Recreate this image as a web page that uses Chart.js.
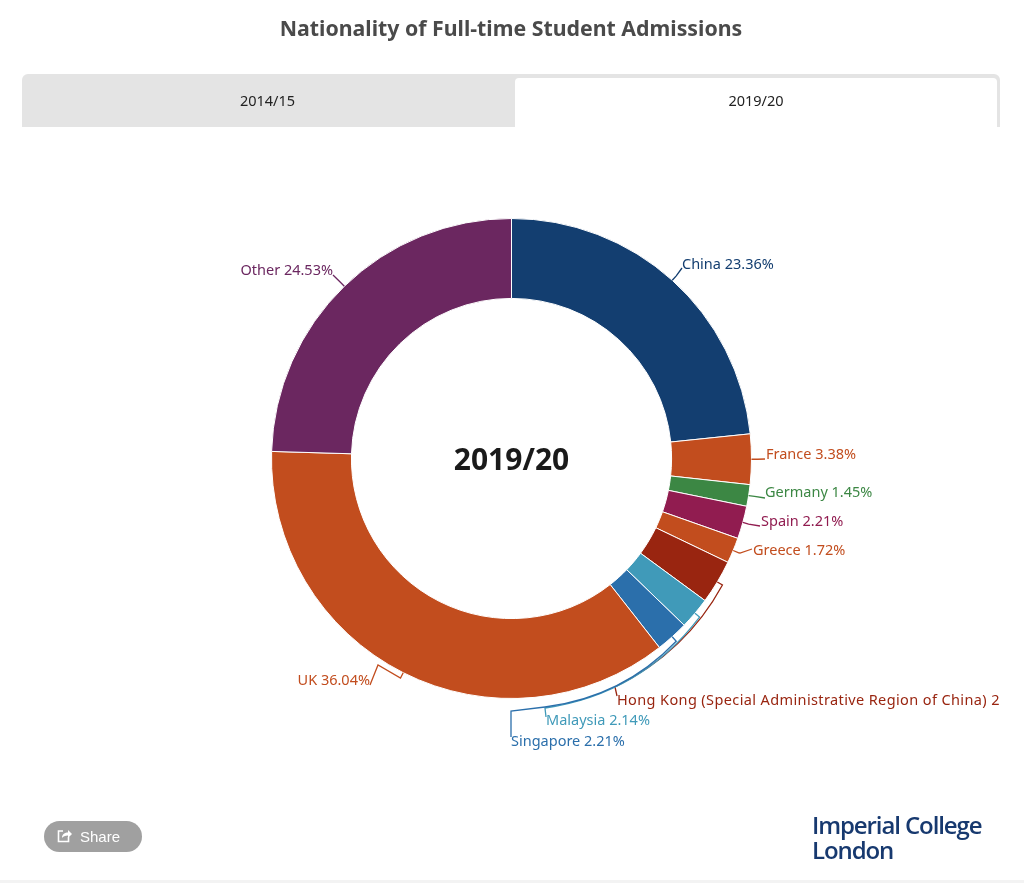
<!DOCTYPE html>
<html>
<head>
<meta charset="utf-8">
<title>Nationality of Full-time Student Admissions</title>
<script src="https://cdn.jsdelivr.net/npm/chart.js@4/dist/chart.umd.min.js"></script>
<style>
    html, body { margin: 0; padding: 0; background: #fff; }
    body { width: 1024px; height: 883px; position: relative; overflow: hidden; font-family: "Noto Sans", sans-serif; }
    #chart { position: absolute; left: 0; top: 0; }
    h1 { position: absolute; left: 0; width: 1022px; top: 13px; margin: 0; text-align: center; font-size: 21.3px; line-height: 30px; font-weight: 700; color: #4a4a4a; }
    .tabs { position: absolute; left: 22px; top: 74px; width: 978px; height: 53px; background: #e4e4e4; border-radius: 6px 6px 0 0; }
    .tab { position: absolute; top: 4px; height: 49px; line-height: 44px; text-align: center; font-size: 14.5px; color: #222; }
    .tab.first { left: 0; width: 491px; }
    .tab.active { left: 493px; width: 482px; background: #fff; border-radius: 4px 4px 0 0; }
    .share { position: absolute; left: 44px; top: 821px; width: 98px; height: 31px; border-radius: 16px; background: #a0a0a0; color: #fff; font: 15px/32px "Liberation Sans", sans-serif; }
    .share svg { position: absolute; left: 13px; top: 7px; }
    .share span { position: absolute; left: 36px; }
    .logo { position: absolute; left: 812px; top: 812px; font: 600 24px/25px "Open Sans", sans-serif; letter-spacing: -1.1px; color: #17396f; }
    .footer { position: absolute; left: 0; top: 880px; width: 1024px; height: 3px; background: #f3f3f3; }
</style>
</head>
<body>
<canvas id="chart" width="1024" height="883"></canvas>
<h1>Nationality of Full-time Student Admissions</h1>
<div class="tabs">
    <div class="tab first">2014/15</div>
    <div class="tab active">2019/20</div>
</div>
<div class="share">
    <svg width="16" height="15" viewBox="0 0 16 15" fill="none" stroke="#fff" stroke-width="1.6"><path d="M6 3H1.500v10.500h10V9"/><path d="M5 10c0-4 3-5.500 6-5.500V2l4 4-4 4V7.500c-3 0-5 1-6 2.500z" fill="#fff" stroke="none"/></svg>
    <span>Share</span>
</div>
<div class="logo">Imperial College<br>London</div>
<div class="footer"></div>

<script>
const categories = ["China", "France", "Germany", "Spain", "Greece", "Hong Kong (Special Administrative Region of China)", "Malaysia", "Singapore", "UK", "Other"];
const shares = [23.36, 3.38, 1.45, 2.21, 1.72, 2.96, 2.14, 2.21, 36.04, 24.53];
const sliceColors = ["#133e70", "#c24d1e", "#3c8744", "#911c50", "#c24d1e", "#992510", "#409ab9", "#2b6fab", "#c24d1e", "#6b2760"];
const centerLabel = "2019/20";

// where each label sits and how its connector gets there from the ring.
// curve = [control, end] of a bend that hugs the ring, route = straight bits after it
const labelLayout = [
    { x: 682, y: 265, align: "left", route: [[682, 268]] },
    { x: 766, y: 455, align: "left", route: [[765, 459]] },
    { x: 765, y: 493, align: "left", route: [[765, 498]] },
    { x: 761, y: 522, align: "left", route: [[760, 526]] },
    { x: 753, y: 551, align: "left", route: [[740, 553], [752, 549]] },
    { x: 617, y: 701, align: "left", spacing: "0.38px", curve: [[686, 652], [615, 687]], route: [[617, 696]] },
    { x: 546, y: 721, align: "left", curve: [[641, 694], [545, 708]], route: [[546, 717]] },
    { x: 511, y: 742, align: "left", curve: [[623, 697], [545, 707]], route: [[511, 711], [511, 737]] },
    { x: 370, y: 681, align: "right", route: [[378, 665], [370, 685]] },
    { x: 333, y: 271, align: "right", route: [[333, 275]] }
];

const ringLabels = {
    id: "ringLabels",
    afterDatasetsDraw(chart) {
        const ctx = chart.ctx;
        const arcs = chart.getDatasetMeta(0).data;
        ctx.save();
        ctx.font = '14.5px "Noto Sans"';
        ctx.textBaseline = "middle";
        ctx.lineWidth = 1.3;
        arcs.forEach((arc, i) => {
            const place = labelLayout[i];
            const mid = (arc.startAngle + arc.endAngle) / 2;
            const edgeX = arc.x + Math.cos(mid) * arc.outerRadius;
            const edgeY = arc.y + Math.sin(mid) * arc.outerRadius;
            const outX = arc.x + Math.cos(mid) * (arc.outerRadius + 6);
            const outY = arc.y + Math.sin(mid) * (arc.outerRadius + 6);
            ctx.strokeStyle = sliceColors[i];
            ctx.fillStyle = sliceColors[i];
            ctx.beginPath();
            ctx.moveTo(edgeX, edgeY);
            ctx.lineTo(outX, outY);
            if (place.curve) {
                ctx.quadraticCurveTo(place.curve[0][0], place.curve[0][1], place.curve[1][0], place.curve[1][1]);
            }
            place.route.forEach(p => ctx.lineTo(p[0], p[1]));
            ctx.stroke();
            // the long Hong Kong label runs off the chart box, same as the original
            ctx.save();
            ctx.beginPath();
            ctx.rect(0, 0, 1000, 883);
            ctx.clip();
            ctx.textAlign = place.align;
            ctx.letterSpacing = place.spacing || "0px";
            ctx.fillText(categories[i] + " " + shares[i].toFixed(2) + "%", place.x, place.y);
            ctx.restore();
        });
        ctx.restore();
    }
};

const centerText = {
    id: "centerText",
    afterDatasetsDraw(chart) {
        const arc = chart.getDatasetMeta(0).data[0];
        const ctx = chart.ctx;
        ctx.save();
        ctx.font = '700 30px "Noto Sans"';
        ctx.fillStyle = "#1a1a1a";
        ctx.textAlign = "center";
        ctx.textBaseline = "middle";
        ctx.fillText(centerLabel, arc.x, arc.y + 3);
        ctx.restore();
    }
};

new Chart(document.getElementById("chart"), {
    type: "doughnut",
    data: {
        labels: categories,
        datasets: [{
            data: shares,
            backgroundColor: sliceColors,
            borderColor: "#ffffff",
            borderWidth: 1
        }]
    },
    options: {
        responsive: false,
        animation: false,
        cutout: "66.7%",
        layout: { padding: { left: 271, right: 272, top: 218, bottom: 184 } },
        plugins: {
            legend: { display: false },
            tooltip: { enabled: false }
        }
    },
    plugins: [ringLabels, centerText]
});
</script>
</body>
</html>
